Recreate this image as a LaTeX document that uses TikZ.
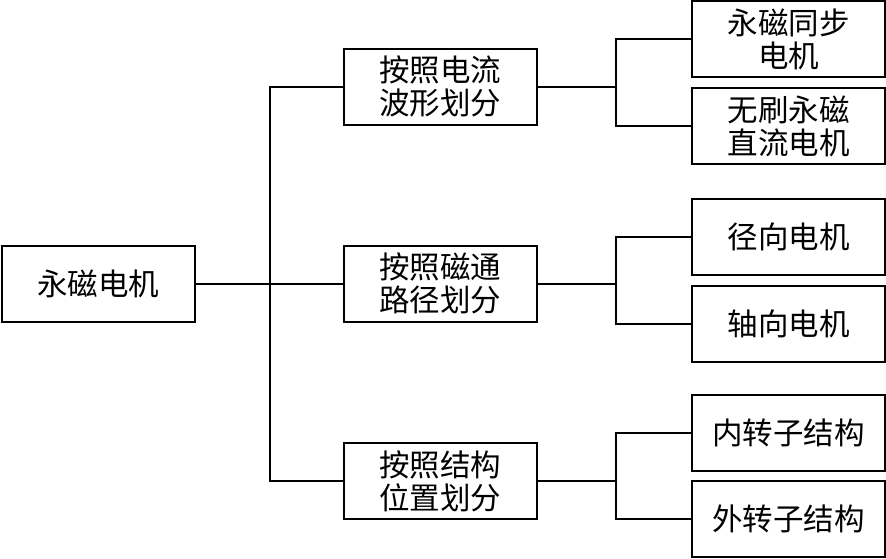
\documentclass[tikz,border=0pt]{standalone}
\usepackage{fontspec}
\setmainfont{Noto Sans CJK SC}
\tikzset{
  box/.style={draw, line width=2pt, inner sep=0pt, align=center,
    minimum width=193pt, minimum height=76pt,
    font=\fontsize{30.5}{33}\selectfont},
  link/.style={line width=2pt}
}

\begin{document}
\begin{tikzpicture}[x=1pt, y=-1pt]
			%%%%% START %%%%%
			\useasboundingbox (0, 0) rectangle (886, 558);
			
			\node[box] (root) at (98, 283.5) {永磁电机};
			
			\node[box] (wave) at (440, 86.5) {按照电流\\波形划分};
			\node[box] (flux) at (440, 283.5) {按照磁通\\路径划分};
			\node[box] (pos) at (440, 481) {按照结构\\位置划分};
			
			\node[box] (pmsm) at (788.5, 39) {永磁同步\\电机};
			\node[box] (bldc) at (788.5, 126) {无刷永磁\\直流电机};
			\node[box] (radial) at (788.5, 236.5) {径向电机};
			\node[box] (axial) at (788.5, 324) {轴向电机};
			\node[box] (inner) at (788.5, 432.5) {内转子结构};
			\node[box] (outer) at (788.5, 518.5) {外转子结构};
			
			\coordinate (trunk) at (270, 283.5);
			\coordinate (jwave) at (616, 86.5);
			\coordinate (jflux) at (616, 283.5);
			\coordinate (jpos) at (616, 481);
			
			%%%%% LINKS %%%%%
			\draw[link] (root.east) -- (flux.west);
			\draw[link] (wave.west) -| (trunk) |- (pos.west);
			
			\draw[link] (wave.east) -- (jwave);
			\draw[link] (pmsm.west) -| (jwave) |- (bldc.west);
			
			\draw[link] (flux.east) -- (jflux);
			\draw[link] (radial.west) -| (jflux) |- (axial.west);
			
			\draw[link] (pos.east) -- (jpos);
			\draw[link] (inner.west) -| (jpos) |- (outer.west);
			%%%%% END %%%%%
\end{tikzpicture}
\end{document}
